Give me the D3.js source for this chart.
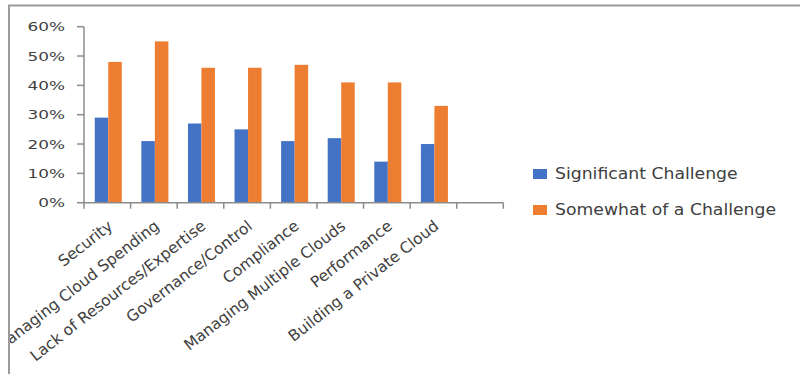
<!DOCTYPE html>
<html><head><meta charset="utf-8">
<script src="https://cdn.jsdelivr.net/npm/d3@7"></script>
<style>html,body{margin:0;padding:0;background:#fff;}svg{display:block;}</style>
</head><body>
<svg id="c" width="800" height="374"></svg>
<script>
const categories = ["Security","Managing Cloud Spending","Lack of Resources/Expertise","Governance/Control","Compliance","Managing Multiple Clouds","Performance","Building a Private Cloud",""];
const significant = [0.29,0.21,0.27,0.25,0.21,0.22,0.14,0.20,null];
const somewhat = [0.48,0.55,0.46,0.46,0.47,0.41,0.41,0.33,null];
const seriesNames = ["Significant Challenge","Somewhat of a Challenge"];
const colors = ["#4472C4","#ED7D31"];
const yTicks = [0,0.1,0.2,0.3,0.4,0.5,0.6];

const svg = d3.select("#c");
const font = "DejaVu Sans, sans-serif";
const textColor = "#404040";

// border
svg.append("clipPath").attr("id","clip").append("rect").attr("x",10).attr("y",7).attr("width",790).attr("height",367);
svg.append("line").attr("x1",8).attr("x2",800).attr("y1",5.5).attr("y2",5.5).attr("stroke","#9a9a9a").attr("stroke-width",2);
svg.append("line").attr("x1",9).attr("x2",9).attr("y1",5).attr("y2",374).attr("stroke","#9a9a9a").attr("stroke-width",2);

const y = d3.scaleLinear().domain([0,0.6]).range([202.7,26.7]);
const x = d3.scaleBand().domain(categories).range([84,503.3]).paddingInner(0.42).paddingOuter(0.21).align(0.55);
const xs = d3.scaleBand().domain(seriesNames).range([0,x.bandwidth()]);

const g = svg.append("g").attr("clip-path","url(#clip)");

// bars
const data = [significant, somewhat];
data.forEach((vals,si)=>{
  g.selectAll(".b"+si).data(categories.map((c,i)=>({c,v:vals[i]})).filter(d=>d.v!=null))
    .enter().append("rect")
    .attr("x",d=>x(d.c)+xs(seriesNames[si]))
    .attr("width",xs.bandwidth())
    .attr("y",d=>y(d.v))
    .attr("height",d=>y(0)-y(d.v))
    .attr("fill",colors[si]);
});

// y axis
const axisColor = "#8c8c8c";
g.append("line").attr("x1",84).attr("x2",84).attr("y1",y(0.6)).attr("y2",y(0)).attr("stroke",axisColor).attr("stroke-width",1.5);
yTicks.forEach(t=>{
  g.append("line").attr("x1",77).attr("x2",84).attr("y1",y(t)).attr("y2",y(t)).attr("stroke",axisColor).attr("stroke-width",1.5);
  g.append("text").attr("transform",`translate(65,${y(t)}) scale(1.3,1)`)
    .attr("text-anchor","end").attr("dy","0.36em")
    .attr("font-family",font).attr("font-size",13).attr("fill",textColor)
    .text(d3.format(".0%")(t));
});

// x axis
const x0 = x.range()[0];
g.append("line").attr("x1",x0).attr("x2",x.range()[1]).attr("y1",y(0)).attr("y2",y(0)).attr("stroke",axisColor).attr("stroke-width",1.5);
for(let i=0;i<=categories.length;i++){
  const px = x0 + i*x.step();
  g.append("line").attr("x1",px).attr("x2",px).attr("y1",y(0)).attr("y2",y(0)+6).attr("stroke",axisColor).attr("stroke-width",1.5);
}
categories.forEach(c=>{
  if(!c) return;
  const cx = x(c)+x.bandwidth()/2;
  g.append("text").attr("transform",`translate(${cx+2},${y(0)+21}) rotate(-38)`)
    .attr("text-anchor","end").attr("dy","0.35em")
    .attr("font-family",font).attr("font-size",15.5).attr("fill",textColor)
    .text(c);
});

// legend
seriesNames.forEach((s,i)=>{
  const ly = 174 + i*36;
  svg.append("rect").attr("x",533).attr("y",ly-5).attr("width",14).attr("height",10).attr("fill",colors[i]);
  svg.append("text").attr("transform",`translate(555,${ly}) scale(1.15,1)`).attr("dy","0.36em")
    .attr("font-family",font).attr("font-size",15).attr("fill",textColor).text(s);
});
</script>
</body></html>
